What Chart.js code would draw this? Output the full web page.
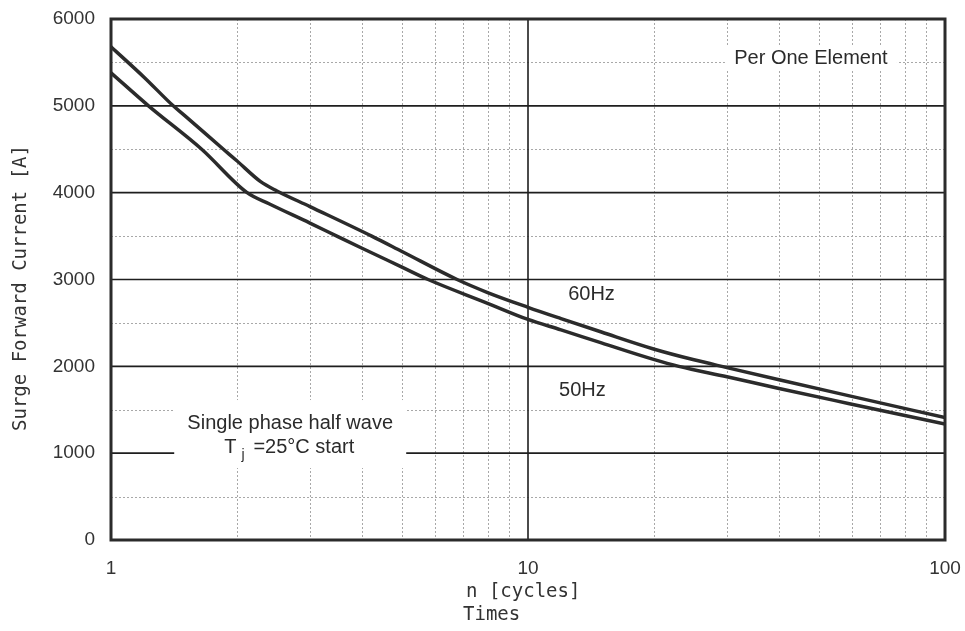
<!DOCTYPE html>
<html><head><meta charset="utf-8">
<script src="https://cdn.jsdelivr.net/npm/chart.js@4/dist/chart.umd.min.js"></script>
<style>html,body{margin:0;padding:0;background:#fff}#wrap{width:965px;height:631px;position:relative}</style>
</head><body><div id="wrap"><canvas id="c"></canvas></div>
<script>
// ---- data ----
const cycles60 = [1, 1.2, 1.41, 1.5, 1.86, 2, 2.28, 2.5, 3, 4.22, 5, 6.76, 8, 10, 12, 15, 20, 25, 30, 40, 59, 100];
const current60 = [5680, 5330, 5000, 4890, 4500, 4370, 4130, 4020, 3840, 3500, 3320, 3000, 2850, 2680, 2550, 2395, 2200, 2075, 1985, 1845, 1660, 1410];
const cycles50 = [1, 1.23, 1.65, 2.12, 2.4, 3, 3.48, 4, 5, 5.76, 8, 10, 12, 15, 20, 23, 30, 40, 59, 100];
const current50 = [5380, 5000, 4500, 4000, 3870, 3650, 3500, 3360, 3140, 3000, 2726, 2540, 2420, 2270, 2080, 2000, 1880, 1745, 1570, 1335];
const xTickLabels = [1, 10, 100];
const yTickLabels = [0, 1000, 2000, 3000, 4000, 5000, 6000];
const yMinorGrid = [500, 1500, 2500, 3500, 4500, 5500];
const yMajorGrid = [1000, 2000, 3000, 4000, 5000];
const xMinorGrid = [2, 3, 4, 5, 6, 7, 8, 9, 20, 30, 40, 50, 60, 70, 80, 90];
const xMajorGrid = [10];
const seriesNames = ['60Hz', '50Hz'];

const toPts = (xs, ys) => xs.map((v, i) => ({x: v, y: ys[i]}));
const INK = '#2b2b2b';

const gridPlugin = {
  id: 'gridPlugin',
  beforeDatasetsDraw(chart) {
    const {ctx, chartArea: {left, right, top, bottom}, scales: {x, y}} = chart;
    ctx.save();
    ctx.lineWidth = 1;
    ctx.strokeStyle = '#a8a8a8';
    ctx.setLineDash([2, 2]);
    for (const v of yMinorGrid) {
      const p = Math.round(y.getPixelForValue(v)) + 0.5;
      ctx.beginPath(); ctx.moveTo(left, p); ctx.lineTo(right, p); ctx.stroke();
    }
    for (const v of xMinorGrid) {
      const p = Math.round(x.getPixelForValue(v)) + 0.5;
      ctx.beginPath(); ctx.moveTo(p, top); ctx.lineTo(p, bottom); ctx.stroke();
    }
    ctx.setLineDash([]);
    ctx.strokeStyle = '#1e1e1e';
    ctx.lineWidth = 1.6;
    for (const v of yMajorGrid) {
      const p = y.getPixelForValue(v);
      ctx.beginPath(); ctx.moveTo(left, p); ctx.lineTo(right, p); ctx.stroke();
    }
    for (const v of xMajorGrid) {
      const p = x.getPixelForValue(v);
      ctx.beginPath(); ctx.moveTo(p, top); ctx.lineTo(p, bottom); ctx.stroke();
    }
    // annotations with white backgrounds
    ctx.fillStyle = '#fff';
    const sx = x.getPixelForValue(2.69);
    ctx.fillRect(sx - 116, y.getPixelForValue(1612), 232, y.getPixelForValue(829) - y.getPixelForValue(1612));
    const px = x.getPixelForValue(47.7);
    ctx.fillRect(px - 86, y.getPixelForValue(5540) - 12, 172, 24);
    ctx.fillStyle = INK;
    ctx.textBaseline = 'middle';
    ctx.textAlign = 'center';
    ctx.font = '20px "Liberation Sans", Arial, sans-serif';
    ctx.fillText('Per One Element', px, y.getPixelForValue(5540));
    ctx.fillText(seriesNames[0], x.getPixelForValue(14.2), y.getPixelForValue(2822));
    ctx.fillText(seriesNames[1], x.getPixelForValue(13.5), y.getPixelForValue(1727));
    ctx.fillText('Single phase half wave', sx, y.getPixelForValue(1347));
    // second line: T_j=25°C start
    const ly = y.getPixelForValue(1071);
    ctx.textAlign = 'left';
    const t1 = 'T', t3 = '=25°C start';
    const w1 = ctx.measureText(t1).width, w3 = ctx.measureText(t3).width;
    const total = w1 + 19 + w3;
    let cx = sx - total / 2;
    ctx.fillText(t1, cx, ly);
    ctx.font = '14px "Liberation Sans", Arial, sans-serif';
    ctx.fillText('j', cx + w1 + 5, ly + 8);
    ctx.font = '20px "Liberation Sans", Arial, sans-serif';
    ctx.fillText(t3, cx + w1 + 17, ly);
    ctx.restore();
  },
  afterDraw(chart) {
    const {ctx, chartArea: {left, right, top, bottom}} = chart;
    ctx.save();
    ctx.strokeStyle = INK;
    ctx.lineWidth = 3;
    ctx.strokeRect(left, top, right - left, bottom - top);
    // axis titles
    ctx.fillStyle = '#333';
    ctx.font = '19px "DejaVu Sans Mono", monospace';
    ctx.textBaseline = 'middle';
    ctx.textAlign = 'left';
    ctx.fillText('n [cycles]', 466, 592);
    ctx.fillText('Times', 463, 615);
    ctx.translate(21, 288);
    ctx.rotate(-Math.PI / 2);
    ctx.textAlign = 'center';
    ctx.fillText('Surge Forward Current [A]', 0, 0);
    ctx.restore();
  }
};

new Chart(document.getElementById('c'), {
  type: 'line',
  data: {
    datasets: [
      {label: seriesNames[0], data: toPts(cycles60, current60), borderColor: INK, borderWidth: 3.5, pointRadius: 0, tension: 0.4, cubicInterpolationMode: 'monotone', fill: false},
      {label: seriesNames[1], data: toPts(cycles50, current50), borderColor: INK, borderWidth: 3.5, pointRadius: 0, tension: 0.4, cubicInterpolationMode: 'monotone', fill: false}
    ]
  },
  options: {
    responsive: true,
    maintainAspectRatio: false,
    animation: false,
    layout: {padding: {left: 0, right: 20, top: 19, bottom: 0}},
    plugins: {legend: {display: false}, tooltip: {enabled: false}},
    scales: {
      x: {
        type: 'logarithmic', min: 1, max: 100,
        grid: {display: false, drawTicks: false}, border: {display: false},
        afterFit(s) { s.height = 91; s.paddingLeft = 0; s.paddingRight = 0; },
        ticks: {
          autoSkip: false, maxRotation: 0, padding: 17, color: '#333',
          font: {family: '"Liberation Sans", Arial, sans-serif', size: 19},
          callback: (v) => xTickLabels.includes(v) ? String(v) : ''
        }
      },
      y: {
        type: 'linear', min: 0, max: 6000,
        grid: {display: false, drawTicks: false}, border: {display: false},
        afterFit(s) { s.width = 111; s.paddingTop = 0; s.paddingBottom = 0; },
        afterBuildTicks(s) { s.ticks = yTickLabels.map(v => ({value: v})); },
        ticks: {
          padding: 16, color: '#333',
          font: {family: '"Liberation Sans", Arial, sans-serif', size: 19},
          callback: (v) => String(v)
        }
      }
    }
  },
  plugins: [gridPlugin]
});
</script>
</body></html>
